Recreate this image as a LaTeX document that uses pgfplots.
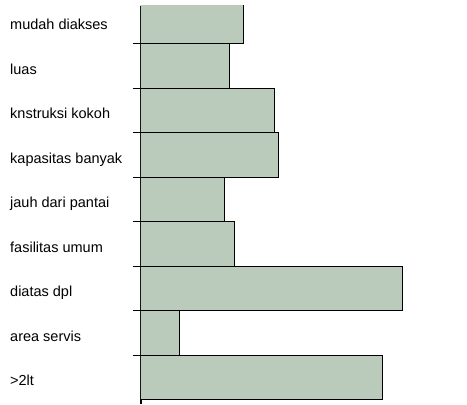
\documentclass[border=0pt]{standalone}
\usepackage{pgfplots}
\pgfplotsset{compat=1.18}
\usepackage{fontspec}
\setmainfont{Liberation Sans}
\definecolor{barfill}{RGB}{186,203,188}
\begin{document}
\begin{tikzpicture}[x=1pt,y=1pt]
\useasboundingbox (0,0) rectangle (467,405);
\begin{axis}[
  at={(141pt,1pt)}, anchor=south west,
  scale only axis, width=326pt, height=398pt,
  xmin=0, xmax=326,
  ymin=-0.601, ymax=8.343,
  hide x axis,
  axis y line*=left,
  ytick={0,...,8},
  yticklabels={>2lt, area servis, diatas dpl, fasilitas umum, jauh dari pantai, kapasitas banyak, knstruksi kokoh, luas, mudah diakses},
  minor ytick={0.5,1.5,...,7.5},
  major tick length=0pt, minor tick length=8pt, tick align=outside,
  yticklabel style={anchor=base west, xshift=-131pt, yshift=-8.5pt, inner sep=0pt, font=\fontsize{14.5}{16}\selectfont},
  tick style={black, line width=1pt},
  axis line style={black, line width=1.3pt},
  clip=true
]
\addplot[xbar, bar width=1, bar shift=0pt, fill=barfill, draw=black, line width=1pt]
  coordinates {(242,0) (38.7,1) (261.7,2) (93.3,3) (83.3,4) (137.7,5) (133.7,6) (89,7) (103,8)};
\end{axis}
\end{tikzpicture}
\end{document}
